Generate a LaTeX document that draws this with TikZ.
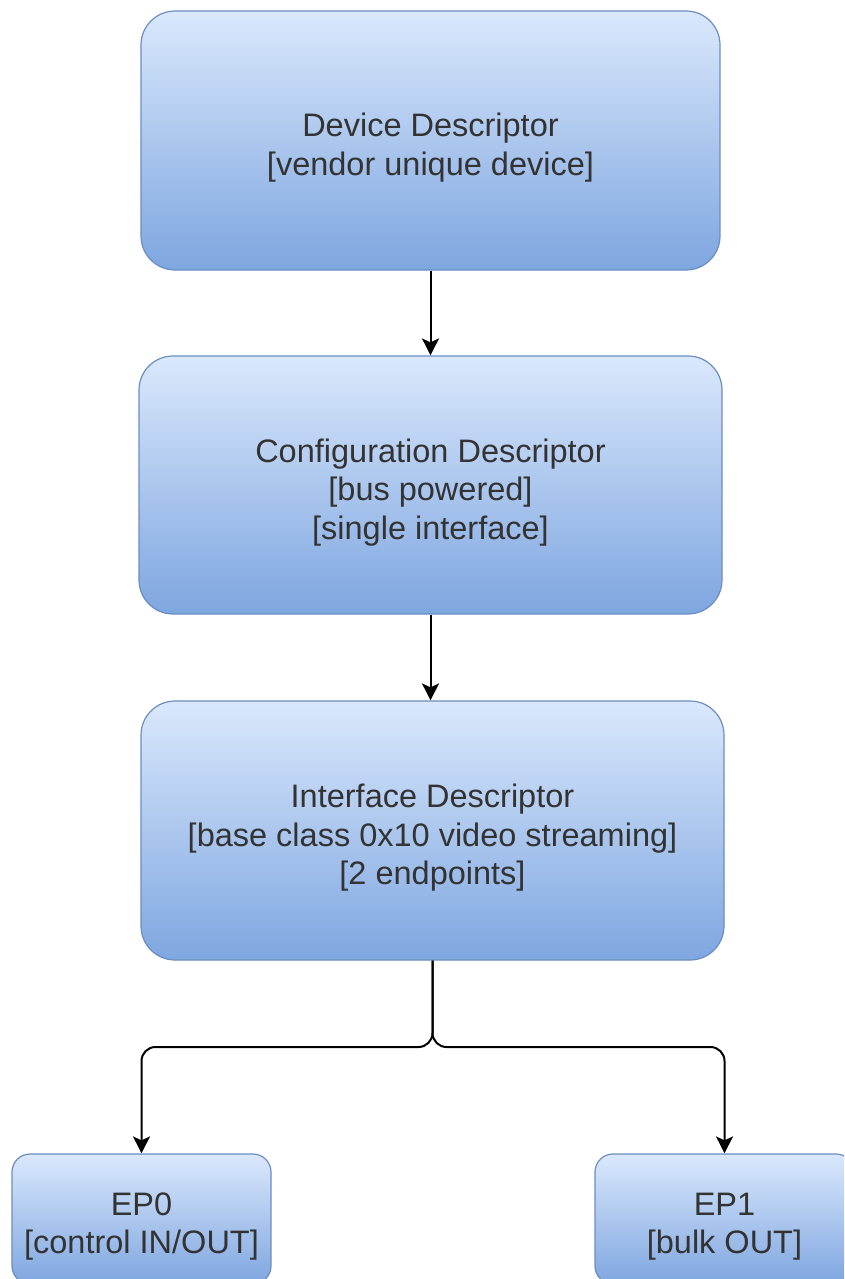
\documentclass[tikz,border=0pt]{standalone}
\usepackage{fontspec}
\setmainfont{Liberation Sans}
\usetikzlibrary{arrows.meta}
\definecolor{boxtop}{HTML}{DAE8FC}
\definecolor{boxbot}{HTML}{7EA6E0}
\definecolor{boxline}{HTML}{6C8EBF}
\definecolor{txt}{HTML}{333333}
% strut that lowers a node's text block a little within its box
\newcommand{\lowerstrut}{\rule{0pt}{38pt}}
\tikzset{
  descbox/.style={draw=boxline, line width=1.2pt, top color=boxtop, bottom color=boxbot,
    rounded corners=34pt, align=center, text=txt, inner sep=0pt,
    font=\fontsize{32.5}{38.5}\selectfont},
  epbox/.style={descbox, rounded corners=18pt},
  arr/.style={line width=2pt, -{Stealth[length=17pt,width=17pt,inset=4pt]}},
}
\begin{document}
\begin{tikzpicture}[x=1pt,y=-1pt]
  \useasboundingbox (0,0) rectangle (844,1279);
  \clip (0,0) rectangle (844,1279);

  % descriptor hierarchy
  \node[descbox, minimum width=579pt, minimum height=259pt] (dev) at (430.5,140.5)
    {\lowerstrut Device Descriptor\\{}[vendor unique device]};
  \node[descbox, minimum width=583pt, minimum height=258pt] (cfg) at (430.5,485)
    {\lowerstrut Configuration Descriptor\\{}[bus powered]\\{}[single interface]};
  \node[descbox, minimum width=583pt, minimum height=259pt] (ifc) at (432.5,830.5)
    {\lowerstrut Interface Descriptor\\{}[base class 0x10 video streaming]\\{}[2 endpoints]};
  \node[epbox, minimum width=259pt, minimum height=130pt] (ep0) at (141.5,1219)
    {\lowerstrut EP0\\{}[control IN/OUT]};
  \node[epbox, minimum width=259pt, minimum height=130pt] (ep1) at (724.5,1219)
    {\lowerstrut EP1\\{}[bulk OUT]};

  % connectors
  \coordinate (split) at (432.5,1047);
  \draw[arr] (dev.south) -- (cfg.north);
  \draw[arr] (cfg.south) -- (cfg.south |- ifc.north);
  \draw[arr, rounded corners=14pt] (ifc.south) -- (split) -| (ep0.north);
  \draw[arr, rounded corners=14pt] (ifc.south) -- (split) -| (ep1.north);
\end{tikzpicture}
\end{document}
